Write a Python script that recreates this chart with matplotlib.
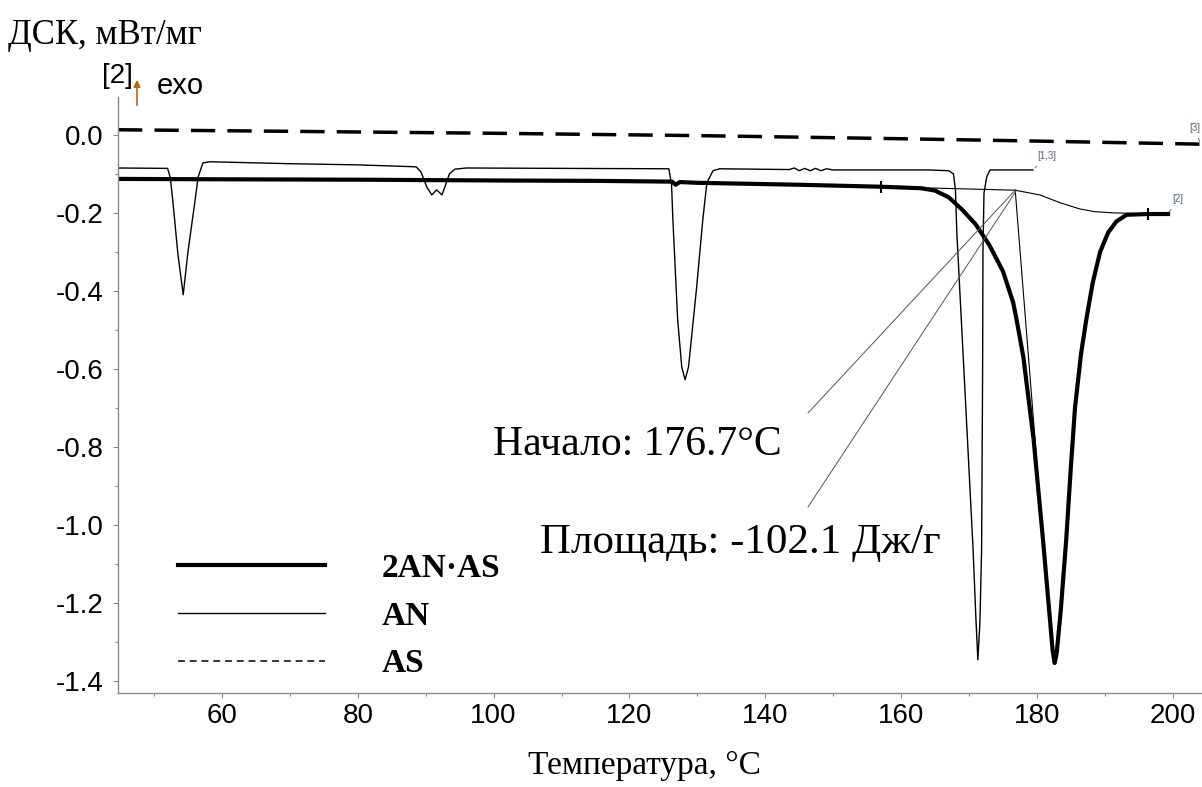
import matplotlib
matplotlib.use("Agg")
import matplotlib.pyplot as plt
from matplotlib.lines import Line2D

plt.rcParams['axes.unicode_minus'] = False
SANS = 'Liberation Sans'
SERIF = 'Liberation Serif'

# --- data (temperature, degC ; DSC, mW/mg) ---
as_t = [44.7, 70, 100, 130, 160, 180, 204.3]
as_dsc = [0.013, 0.009, 0.004, -0.002, -0.010, -0.016, -0.024]

salt_t = [44.7, 60, 80, 100, 115, 126.3, 126.8, 127.4, 130, 145, 157.0, 163.0, 165.0,
          167.0, 169.0, 171.0, 173.0, 175.0, 176.5, 177.0, 178.0, 179.5, 180.9, 181.8,
          182.3, 182.6, 182.9, 183.5, 184.3, 185.0, 185.6, 186.5, 187.3, 188.2, 189.3,
          190.5, 191.7, 193.2, 196.3, 199.3]
salt_dsc = [-0.113, -0.114, -0.115, -0.117, -0.118, -0.120, -0.128, -0.121, -0.123, -0.128,
            -0.133, -0.137, -0.143, -0.160, -0.192, -0.230, -0.283, -0.350, -0.430,
            -0.474, -0.570, -0.780, -1.040, -1.220, -1.320, -1.354, -1.330, -1.220,
            -1.040, -0.850, -0.700, -0.560, -0.470, -0.380, -0.300, -0.250, -0.222,
            -0.205, -0.203, -0.203]

an_t = [44.7, 52.0, 52.4, 52.8, 53.5, 54.3, 55.0, 56.0, 56.5, 57.2, 58.2, 70, 80, 88.6,
        89.3, 90.2, 90.9, 91.6, 92.4, 93.0, 93.5, 94.3, 96.0, 110, 125.8, 126.2,
        126.4, 127.1, 127.7, 128.2, 128.7, 129.9, 130.8, 131.4, 132.3, 133.3, 143.5,
        144.3, 145.0, 145.8, 146.6, 147.4, 148.2, 149.0, 150, 164, 167.0, 167.7,
        168.0, 168.2, 169.0, 170.6, 171.0, 171.3, 171.6, 171.85, 172.0, 172.05,
        172.2, 172.6, 173.1, 179.4]
an_dsc = [-0.085, -0.086, -0.110, -0.174, -0.303, -0.410, -0.300, -0.174, -0.108,
          -0.072, -0.069, -0.074, -0.077, -0.082, -0.095, -0.135, -0.154, -0.141,
          -0.154, -0.125, -0.100, -0.088, -0.085, -0.086, -0.087, -0.128, -0.218,
          -0.474, -0.595, -0.628, -0.595, -0.390, -0.218, -0.123, -0.092, -0.087,
          -0.089, -0.085, -0.092, -0.086, -0.092, -0.086, -0.092, -0.087, -0.090,
          -0.090, -0.092, -0.100, -0.140, -0.250, -0.520, -1.064, -1.236, -1.346,
          -1.250, -1.064, -0.600, -0.300, -0.150, -0.108, -0.090, -0.090]

# onset construction for the 2AN·AS peak
base_t = [157.0, 176.8]
base_dsc = [-0.133, -0.142]
tang_t = [176.8, 180.9]
tang_dsc = [-0.142, -1.040]
sig_t = [176.8, 180.4, 183.4, 186.3, 188.5, 191.2, 195.0, 199.1]
sig_dsc = [-0.142, -0.154, -0.174, -0.190, -0.197, -0.200, -0.202, -0.203]
marker_t = [157.0, 180.9, 196.3]
marker_dsc = [-0.133, -1.040, -0.203]

onset = 176.7
area = -102.1

fig = plt.figure(figsize=(12.02, 7.87), dpi=100)
ax = fig.add_axes([118 / 1202, 94 / 787, 1 - 118 / 1202, (693 - 97) / 787])

ax.plot(as_t, as_dsc, color='black', lw=2.5, dashes=(7, 3.5), solid_capstyle='butt')
ax.plot(an_t, an_dsc, color='black', lw=1.0)
ax.plot(salt_t, salt_dsc, color='black', lw=3.0)
ax.plot(base_t, base_dsc, color='black', lw=0.8)
ax.plot(tang_t, tang_dsc, color='black', lw=0.8)
ax.plot(sig_t, sig_dsc, color='black', lw=0.8)
ax.plot(marker_t, marker_dsc, ls='none', marker='|', ms=9, mew=1.5, color='black')

# curve end labels
small = dict(fontsize=7, color='#56627e', family=SANS)
ax.annotate('[1,3]', xy=(an_t[-1], an_dsc[-1]), xytext=(181.4, -0.055),
            arrowprops=dict(arrowstyle='-', color='#707070', lw=0.7), ha='center', va='center', **small)
ax.annotate('[2]', xy=(salt_t[-1], salt_dsc[-1]), xytext=(200.7, -0.165),
            arrowprops=dict(arrowstyle='-', color='#707070', lw=0.7), ha='center', va='center', **small)
ax.annotate('[3]', xy=(as_t[-1] - 0.2, as_dsc[-1]), xytext=(203.2, 0.018),
            arrowprops=dict(arrowstyle='-', color='#707070', lw=0.7), ha='center', va='center', **small)

# onset / area annotation leaders
ax.plot([onset + 0.1, 146.3], [-0.142, -0.713], color='#555555', lw=0.7)
ax.plot([onset + 0.3, 146.3], [-0.142, -0.954], color='#555555', lw=0.7)
ax.text(142.4, -0.795, f'Начало: {onset}°C', ha='right', va='center',
        fontsize=30, family=SERIF)
ax.text(106.8, -1.046, f'Площадь: {area} Дж/г', ha='left', va='center',
        fontsize=31, family=SERIF)

ax.set_xlim(44.7, 204.3)
ax.set_ylim(-1.431, 0.097)
ax.set_xticks(range(60, 201, 20))
ax.set_xticks(range(50, 201, 10), minor=True)
ax.set_yticks([0.0, -0.2, -0.4, -0.6, -0.8, -1.0, -1.2, -1.4])
ax.set_yticks([-0.1, -0.3, -0.5, -0.7, -0.9, -1.1, -1.3], minor=True)
ax.yaxis.set_major_formatter(matplotlib.ticker.FormatStrFormatter('%.1f'))
for s in ['top', 'right']:
    ax.spines[s].set_visible(False)
for s in ['left', 'bottom']:
    ax.spines[s].set_color('#8a8a8a')
    ax.spines[s].set_linewidth(1.0)
ax.tick_params(which='major', length=3.5, width=0.8, color='#8a8a8a', labelsize=20)
ax.tick_params(which='minor', length=2.5, width=0.8, color='#8a8a8a')
ax.tick_params(axis='y', pad=7)
ax.tick_params(axis='x', pad=4)
for lab in ax.get_xticklabels() + ax.get_yticklabels():
    lab.set_family(SANS)

ax.set_xlabel('Температура, °C', family=SERIF, fontsize=24, labelpad=15)
ax.xaxis.label.set_x((644 - 118) / (1202 - 118))
fig.text(8 / 1202, 1 - 36 / 787, 'ДСК, мВт/мг', family=SERIF, fontsize=25, va='center', ha='left')

# exo marker
fig.text(117 / 1202, 1 - 76 / 787, '[2]', family=SANS, fontsize=20, ha='center', va='center')
ax.annotate('', xy=(137 / 1202, 1 - 77 / 787), xytext=(137 / 1202, 1 - 108 / 787),
            xycoords='figure fraction', textcoords='figure fraction',
            arrowprops=dict(arrowstyle='-|>', color='#b5651d', lw=1.2, mutation_scale=10))
fig.text(157 / 1202, 1 - 86 / 787, 'exo', family=SANS, fontsize=21, ha='left', va='center')

# legend
handles = [Line2D([], [], color='black', lw=3.0),
           Line2D([], [], color='black', lw=1.0),
           Line2D([], [], color='black', lw=1.1, dashes=(4.5, 3.2))]
ax.legend(handles, ['2AN·AS', 'AN', 'AS'], loc='upper left',
          bbox_to_anchor=(178 / 1202, 1 - 553 / 787), bbox_transform=fig.transFigure,
          frameon=False, borderpad=0, borderaxespad=0, handlelength=4.4,
          handletextpad=1.7, labelspacing=0.5,
          prop=dict(family=SERIF, weight='bold', size=24))

fig.savefig('out.png', dpi=100)
